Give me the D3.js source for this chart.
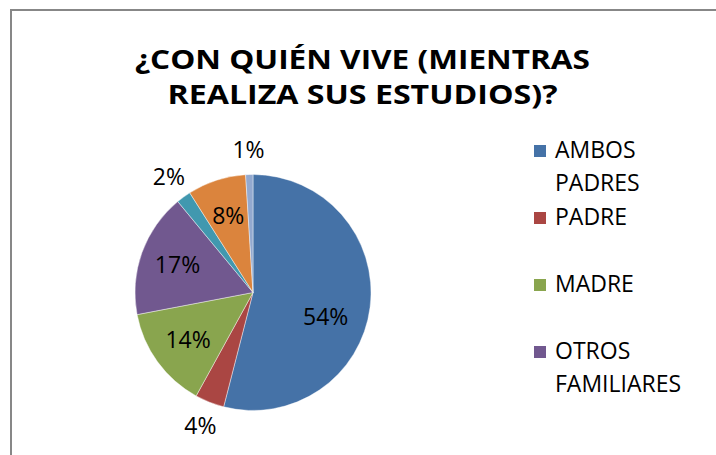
<!DOCTYPE html>
<html>
<head>
<meta charset="utf-8">
<script src="https://cdn.jsdelivr.net/npm/d3@7"></script>
<style>
  html, body { margin: 0; padding: 0; background: #fff; }
  svg { display: block; }
</style>
</head>
<body>
<div class="pie_chart"></div>
<script>

// datos
var categories = ["AMBOS PADRES", "PADRE", "MADRE", "OTROS FAMILIARES", "HERMANOS", "AMIGOS", "SOLO"];
var values = [54, 4, 14, 17, 2, 8, 1];
var colors = ["#4572A7", "#AA4643", "#89A54E", "#71588F", "#4198AF", "#DB843D", "#93A9CF"];
var titleLines = ["¿CON QUIÉN VIVE (MIENTRAS", "REALIZA SUS ESTUDIOS)?"];
var legendShown = 4; // la leyenda del original se corta despues del cuarto

var div_width = 716;
var div_height = 455;
var cx = 253, cy = 292.5, radius = 118;

var svg = d3.select(".pie_chart").append("svg")
    .attr("width", div_width)
    .attr("height", div_height);

// marco del area del grafico
svg.append("path")
    .attr("d", "M11,455 L11,10 L716,10")
    .attr("fill", "none")
    .attr("stroke", "#878787")
    .attr("stroke-width", 2);

// titulo
var titleLen = [455, 390];
svg.selectAll(".title")
    .data(titleLines)
    .enter().append("text")
    .attr("class", "title")
    .attr("x", 362.5)
    .attr("y", function (d, i) { return 69 + i * 35; })
    .attr("text-anchor", "middle")
    .attr("textLength", function (d, i) { return titleLen[i]; })
    .attr("lengthAdjust", "spacingAndGlyphs")
    .style("font-family", "'Open Sans', sans-serif")
    .style("font-weight", "bold")
    .style("font-size", "26px")
    .style("fill", "#000")
    .text(function (d) { return d; });

var data = categories.map(function (c, i) {
    return { name: c, value: values[i], color: colors[i] };
});

var pie = d3.pie()
    .sort(null)
    .value(function (d) { return d.value; });

var arc = d3.arc().innerRadius(0).outerRadius(radius);
var labelIn = d3.arc().innerRadius(radius * 0.68).outerRadius(radius * 0.68);
var labelOut = d3.arc().innerRadius(radius + 25).outerRadius(radius + 25);

var g = svg.append("g")
    .attr("transform", "translate(" + cx + "," + cy + ")");

var arcs = pie(data);

g.selectAll(".slice")
    .data(arcs)
    .enter().append("path")
    .attr("class", "slice")
    .attr("d", arc)
    .attr("fill", function (d) { return d.data.color; })
    .attr("stroke", "#ffffff")
    .attr("stroke-width", 0.6)
    .attr("stroke-opacity", 0.7);

g.selectAll(".label")
    .data(arcs)
    .enter().append("text")
    .attr("class", "label")
    .attr("transform", function (d) {
        var p;
        if (d.data.value < 5) {
            p = labelOut.centroid(d);
        }
        else if (d.endAngle - d.startAngle > Math.PI) {
            // porcion grande: Excel la baja hacia el centro de la mitad inferior
            var a = (d.startAngle + d.endAngle) / 2 + 0.2;
            p = [Math.sin(a) * radius * 0.65, -Math.cos(a) * radius * 0.65];
        }
        else {
            p = labelIn.centroid(d);
        }
        return "translate(" + p[0] + "," + p[1] + ")";
    })
    .attr("dy", "0.35em")
    .attr("text-anchor", "middle")
    .style("font-family", "'Open Sans', sans-serif")
    .style("font-size", "23px")
    .style("fill", "#000")
    .text(function (d) { return d.data.value + "%"; });

// leyenda
var legend = svg.selectAll(".legend")
    .data(data.slice(0, legendShown))
    .enter().append("g")
    .attr("class", "legend")
    .attr("transform", function (d, i) { return "translate(534," + (158 + i * 67) + ")"; });

legend.append("rect")
    .attr("x", 0)
    .attr("y", -13)
    .attr("width", 12)
    .attr("height", 12)
    .attr("fill", function (d) { return d.color; });

legend.append("text")
    .attr("x", 21)
    .attr("y", 0)
    .style("font-family", "'Open Sans', sans-serif")
    .style("font-size", "23px")
    .style("fill", "#000")
    .each(function (d) {
        var words = d.name.split(" ");
        var t = d3.select(this);
        words.forEach(function (w, j) {
            t.append("tspan")
                .attr("x", 21)
                .attr("dy", j == 0 ? 0 : 33)
                .text(w);
        });
    });

</script>
</body>
</html>
